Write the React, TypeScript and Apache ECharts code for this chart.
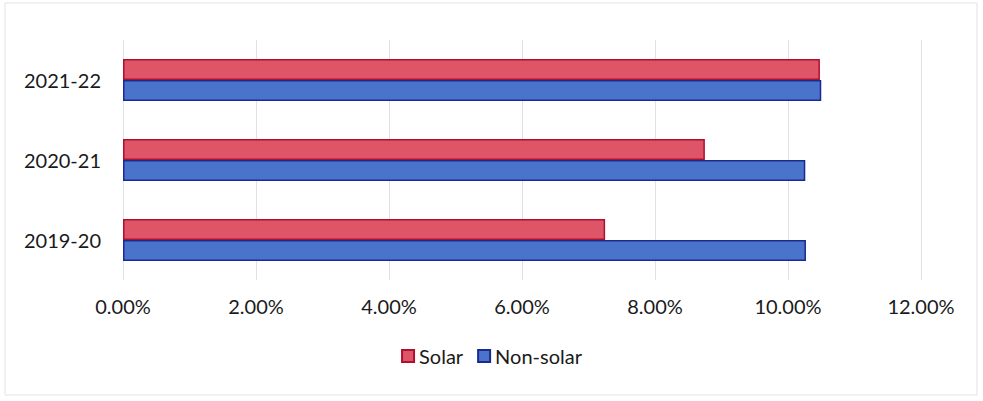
import React, { useEffect, useRef } from "react";
import * as echarts from "echarts";

const categories = ["2019-20", "2020-21", "2021-22"];
const solar = [7.25, 8.75, 10.48];
const nonSolar = [10.27, 10.26, 10.5];
const seriesNames = ["Solar", "Non-solar"];

const FONT = "Lato";

export default function App() {
  const ref = useRef<HTMLDivElement>(null);
  useEffect(() => {
    const chart = echarts.init(ref.current!, null, { renderer: "svg" });
    chart.setOption({
      animation: false,
      backgroundColor: "#ffffff",
      textStyle: { fontFamily: FONT },
      grid: { left: 123, right: 62, top: 40, bottom: 121, containLabel: false },
      legend: {
        data: seriesNames,
        bottom: 30,
        left: "center",
        icon: "rect",
        itemWidth: 12,
        itemHeight: 12,
        itemGap: 14,
        textStyle: { fontFamily: FONT, fontSize: 20, color: "#1a1a1a" },
      },
      xAxis: {
        type: "value",
        min: 0,
        max: 12,
        interval: 2,
        axisLine: { show: false },
        axisTick: { show: false },
        splitLine: { show: true, lineStyle: { color: "#e0e0e6", width: 1 } },
        axisLabel: {
          fontFamily: FONT,
          fontSize: 20,
          color: "#1a1a1a",
          margin: 16,
          formatter: (v: number) => v.toFixed(2) + "%",
        },
      },
      yAxis: {
        type: "category",
        data: categories,
        axisLine: { show: false },
        axisTick: { show: false },
        axisLabel: { fontFamily: FONT, fontSize: 20, color: "#1a1a1a", margin: 22 },
      },
      series: [
        {
          name: "Solar",
          type: "bar",
          data: solar,
          barWidth: 21,
          barGap: "0%",
          itemStyle: { color: "#dd5566", borderColor: "#b01030", borderWidth: 1.5 },
        },
        {
          name: "Non-solar",
          type: "bar",
          data: nonSolar,
          barWidth: 21,
          barGap: "0%",
          itemStyle: { color: "#4a74cc", borderColor: "#1a2a90", borderWidth: 1.5 },
        },
      ],
      graphic: [
        {
          type: "rect",
          shape: { x: 5, y: 3, width: 972, height: 392 },
          style: { fill: "none", stroke: "#e2e2e2", lineWidth: 1 },
          silent: true,
        },
      ],
    });
    return () => chart.dispose();
  }, []);
  return (
    <div
      ref={ref}
      style={{ position: "fixed", left: 0, top: 0, width: 983, height: 401 }}
    />
  );
}
